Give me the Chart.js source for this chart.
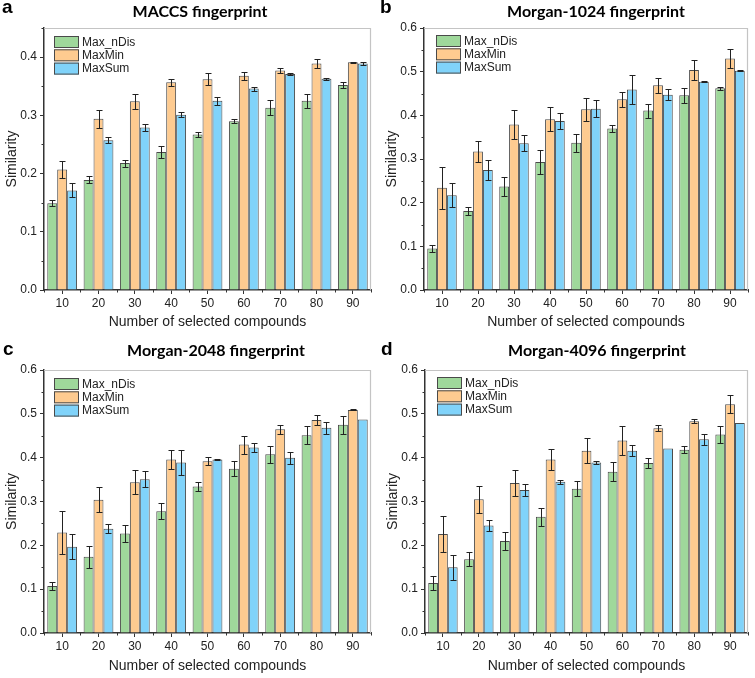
<!DOCTYPE html>
<html>
<head>
<meta charset="utf-8">
<script src="https://cdn.jsdelivr.net/npm/chart.js@4.4.1/dist/chart.umd.min.js"></script>
<style>
  html, body { margin: 0; padding: 0; background: #fff; }
  #wrap { position: relative; width: 755px; height: 678px; overflow: hidden; }
  canvas { position: absolute; }
</style>
</head>
<body>
<div id="wrap">
  <canvas id="chartA" width="377" height="335" style="left:0;top:0"></canvas>
  <canvas id="chartB" width="375" height="335" style="left:380px;top:0"></canvas>
  <canvas id="chartC" width="377" height="343" style="left:0;top:335px"></canvas>
  <canvas id="chartD" width="374" height="343" style="left:381px;top:335px"></canvas>
</div>
<script>
// x categories (number of selected compounds)
const compounds = ['10', '20', '30', '40', '50', '60', '70', '80', '90'];
const seriesNames = ['Max_nDis', 'MaxMin', 'MaxSum'];

// a: MACCS fingerprint
const maccsNDis = [0.149, 0.189, 0.218, 0.237, 0.267, 0.290, 0.313, 0.325, 0.352];
const maccsNDisErr = [0.005, 0.006, 0.006, 0.010, 0.0045, 0.0035, 0.013, 0.012, 0.0045];
const maccsMaxMin = [0.207, 0.294, 0.324, 0.357, 0.362, 0.368, 0.377, 0.389, 0.391];
const maccsMaxMinErr = [0.015, 0.015, 0.0125, 0.006, 0.010, 0.0065, 0.0045, 0.0085, 0.001];
const maccsMaxSum = [0.171, 0.257, 0.279, 0.301, 0.325, 0.346, 0.371, 0.363, 0.389];
const maccsMaxSumErr = [0.012, 0.005, 0.006, 0.0045, 0.0065, 0.0035, 0.002, 0.0015, 0.003];

// b: Morgan-1024
const m1024NDis = [0.095, 0.181, 0.237, 0.293, 0.337, 0.370, 0.411, 0.446, 0.462];
const m1024NDisErr = [0.009, 0.009, 0.021, 0.028, 0.021, 0.009, 0.016, 0.017, 0.004];
const m1024MaxMin = [0.234, 0.317, 0.379, 0.391, 0.414, 0.437, 0.469, 0.504, 0.530];
const m1024MaxMinErr = [0.048, 0.024, 0.034, 0.027, 0.026, 0.0175, 0.017, 0.023, 0.021];
const m1024MaxSum = [0.217, 0.275, 0.336, 0.387, 0.415, 0.459, 0.447, 0.477, 0.502];
const m1024MaxSumErr = [0.028, 0.022, 0.018, 0.018, 0.019, 0.033, 0.013, 0.001, 0.001];

// c: Morgan-2048
const m2048NDis = [0.107, 0.174, 0.227, 0.278, 0.334, 0.375, 0.408, 0.451, 0.475];
const m2048NDisErr = [0.0095, 0.025, 0.019, 0.0175, 0.010, 0.017, 0.0195, 0.0205, 0.021];
const m2048MaxMin = [0.229, 0.304, 0.344, 0.396, 0.392, 0.430, 0.465, 0.486, 0.509];
const m2048MaxMinErr = [0.049, 0.028, 0.027, 0.021, 0.009, 0.0205, 0.010, 0.0107, 0.001];
const m2048MaxSum = [0.197, 0.238, 0.351, 0.389, 0.396, 0.423, 0.400, 0.468, 0.487];
const m2048MaxSumErr = [0.028, 0.011, 0.0175, 0.028, 0.001, 0.010, 0.014, 0.014, 0];

// d: Morgan-4096
const m4096NDis = [0.114, 0.168, 0.210, 0.265, 0.329, 0.368, 0.388, 0.418, 0.453];
const m4096NDisErr = [0.015, 0.016, 0.020, 0.021, 0.017, 0.022, 0.0114, 0.0084, 0.019];
const m4096MaxMin = [0.226, 0.305, 0.342, 0.396, 0.416, 0.439, 0.467, 0.483, 0.522];
const m4096MaxMinErr = [0.041, 0.0305, 0.029, 0.023, 0.028, 0.034, 0.007, 0.0046, 0.0206];
const m4096MaxSum = [0.150, 0.245, 0.326, 0.345, 0.389, 0.416, 0.421, 0.442, 0.479];
const m4096MaxSumErr = [0.029, 0.012, 0.0145, 0.004, 0.004, 0.0125, 0, 0.012, 0];

const fills = ['#9fd89b', '#fecb90', '#80d3fa'];
const edge = '#4a4a4a';
const axisColor = '#333';
const frameColor = '#c4c4c4';
const sans = "'Liberation Sans', Arial, sans-serif";

// error bars, drawn on top of each bar
const errorBars = {
  id: 'errorBars',
  afterDatasetsDraw(chart) {
    const { ctx } = chart;
    const y = chart.scales.y;
    ctx.save();
    ctx.strokeStyle = '#222';
    ctx.lineWidth = 1;
    chart.data.datasets.forEach((ds, i) => {
      chart.getDatasetMeta(i).data.forEach((bar, j) => {
        const v = ds.data[j];
        const e = ds.errors[j];
        if (!e) return;
        const yt = Math.round(y.getPixelForValue(v + e)) + 0.5;
        const yb = Math.round(y.getPixelForValue(v - e)) + 0.5;
        const x = Math.round(bar.x) + 0.5;
        ctx.beginPath();
        ctx.moveTo(x, yt); ctx.lineTo(x, yb);
        ctx.moveTo(x - 3, yt); ctx.lineTo(x + 3, yt);
        ctx.moveTo(x - 3, yb); ctx.lineTo(x + 3, yb);
        ctx.stroke();
      });
    });
    ctx.restore();
  }
};

// light frame on top/right, minor ticks, legend, panel letter and title
const decorations = {
  id: 'decorations',
  afterDraw(chart, args, opts) {
    const { ctx, chartArea: a } = chart;
    const x = chart.scales.x;
    const y = chart.scales.y;
    ctx.save();

    ctx.strokeStyle = frameColor;
    ctx.lineWidth = 1.2;
    ctx.beginPath();
    ctx.moveTo(a.left, a.top + 0.5);
    ctx.lineTo(a.right - 0.5, a.top + 0.5);
    ctx.lineTo(a.right - 0.5, a.bottom);
    ctx.stroke();

    // minor ticks
    ctx.strokeStyle = axisColor;
    ctx.lineWidth = 1;
    ctx.beginPath();
    for (let v = 0.05; v < y.max + 1e-9; v += 0.1) {
      const py = Math.round(y.getPixelForValue(v)) + 0.5;
      ctx.moveTo(a.left - 2.5, py); ctx.lineTo(a.left, py);
    }
    const step = x.getPixelForValue(1) - x.getPixelForValue(0);
    for (let i = 0; i <= compounds.length; i++) {
      const px = Math.round(x.getPixelForValue(0) - step / 2 + i * step) + 0.5;
      ctx.moveTo(px, a.bottom); ctx.lineTo(px, a.bottom + 2.5);
    }
    ctx.stroke();

    // legend inside plot, top left
    const lx = a.left + opts.legendDx;
    let ly = a.top + opts.legendDy;
    ctx.font = '12px ' + sans;
    ctx.textBaseline = 'middle';
    ctx.textAlign = 'left';
    chart.data.datasets.forEach((ds) => {
      ctx.fillStyle = ds.backgroundColor;
      ctx.fillRect(lx, ly, 25, 12);
      ctx.strokeStyle = edge;
      ctx.lineWidth = 1;
      ctx.strokeRect(lx + 0.5, ly + 0.5, 24, 11);
      ctx.fillStyle = '#222';
      ctx.fillText(ds.label, lx + 28, ly + 6.5);
      ly += 13.3;
    });

    // panel letter and title
    ctx.fillStyle = '#000';
    ctx.textBaseline = 'alphabetic';
    ctx.font = 'bold 19px ' + sans;
    ctx.fillText(opts.letter, opts.letterX, opts.letterY);
    ctx.textAlign = 'center';
    ctx.font = "bold 16px Lato, 'Open Sans', sans-serif";
    ctx.fillText(opts.title, opts.titleX, opts.titleY);
    ctx.restore();
  }
};

function makeDataset(label, data, errors, color) {
  return {
    label,
    data,
    errors,
    backgroundColor: color,
    borderColor: edge,
    borderWidth: 1,
    barPercentage: 1.0,
    categoryPercentage: 0.82
  };
}

function makeChart(id, series, panel) {
  const ctx = document.getElementById(id).getContext('2d');
  return new Chart(ctx, {
    type: 'bar',
    data: {
      labels: compounds,
      datasets: series.map((s, i) => makeDataset(seriesNames[i], s[0], s[1], fills[i]))
    },
    options: {
      responsive: false,
      animation: false,
      layout: { padding: { top: panel.padTop, right: panel.padRight, left: 0, bottom: 0 } },
      plugins: {
        legend: { display: false },
        tooltip: { enabled: false },
        decorations: panel
      },
      scales: {
        x: {
          grid: { display: true, drawOnChartArea: false, offset: false, tickLength: 4, color: axisColor },
          border: { color: axisColor, width: 1.5 },
          ticks: { color: '#222', font: { family: sans, size: 12 }, padding: 2, maxRotation: 0 },
          title: {
            display: true,
            text: 'Number of selected compounds',
            color: '#222',
            font: { family: sans, size: 14 },
            padding: { top: 0, bottom: panel.xTitlePad }
          },
          afterFit: (scale) => { scale.height = 45; }
        },
        y: {
          min: 0,
          max: panel.yMax,
          grid: { display: true, drawOnChartArea: false, tickLength: 4, color: axisColor },
          border: { color: axisColor, width: 1.5 },
          ticks: {
            stepSize: 0.1,
            includeBounds: false,
            color: '#222',
            font: { family: sans, size: 12 },
            padding: 3,
            callback: (v) => v.toFixed(1)
          },
          title: {
            display: true,
            text: 'Similarity',
            color: '#222',
            font: { family: sans, size: 14 },
            padding: { top: 4, bottom: 0 }
          },
          afterFit: (scale) => { scale.width = 44; }
        }
      }
    },
    plugins: [errorBars, decorations]
  });
}

makeChart('chartA',
  [[maccsNDis, maccsNDisErr], [maccsMaxMin, maccsMaxMinErr], [maccsMaxSum, maccsMaxSumErr]],
  { yMax: 0.45, padTop: 28, padRight: 6, xTitlePad: 4, legendDx: 10, legendDy: 8,
    letter: 'a', letterX: 2, letterY: 13, title: 'MACCS fingerprint', titleX: 200, titleY: 17 });

makeChart('chartB',
  [[m1024NDis, m1024NDisErr], [m1024MaxMin, m1024MaxMinErr], [m1024MaxSum, m1024MaxSumErr]],
  { yMax: 0.6, padTop: 28, padRight: 7, xTitlePad: 4, legendDx: 12, legendDy: 7,
    letter: 'b', letterX: 0, letterY: 13, title: 'Morgan-1024 fingerprint', titleX: 216, titleY: 17 });

makeChart('chartC',
  [[m2048NDis, m2048NDisErr], [m2048MaxMin, m2048MaxMinErr], [m2048MaxSum, m2048MaxSumErr]],
  { yMax: 0.6, padTop: 35, padRight: 6, xTitlePad: 3, legendDx: 10, legendDy: 8,
    letter: 'c', letterX: 3, letterY: 20, title: 'Morgan-2048 fingerprint', titleX: 216, titleY: 21 });

makeChart('chartD',
  [[m4096NDis, m4096NDisErr], [m4096MaxMin, m4096MaxMinErr], [m4096MaxSum, m4096MaxSumErr]],
  { yMax: 0.6, padTop: 35, padRight: 7, xTitlePad: 3, legendDx: 12, legendDy: 7,
    letter: 'd', letterX: 0, letterY: 20, title: 'Morgan-4096 fingerprint', titleX: 216, titleY: 21 });
</script>
</body>
</html>
